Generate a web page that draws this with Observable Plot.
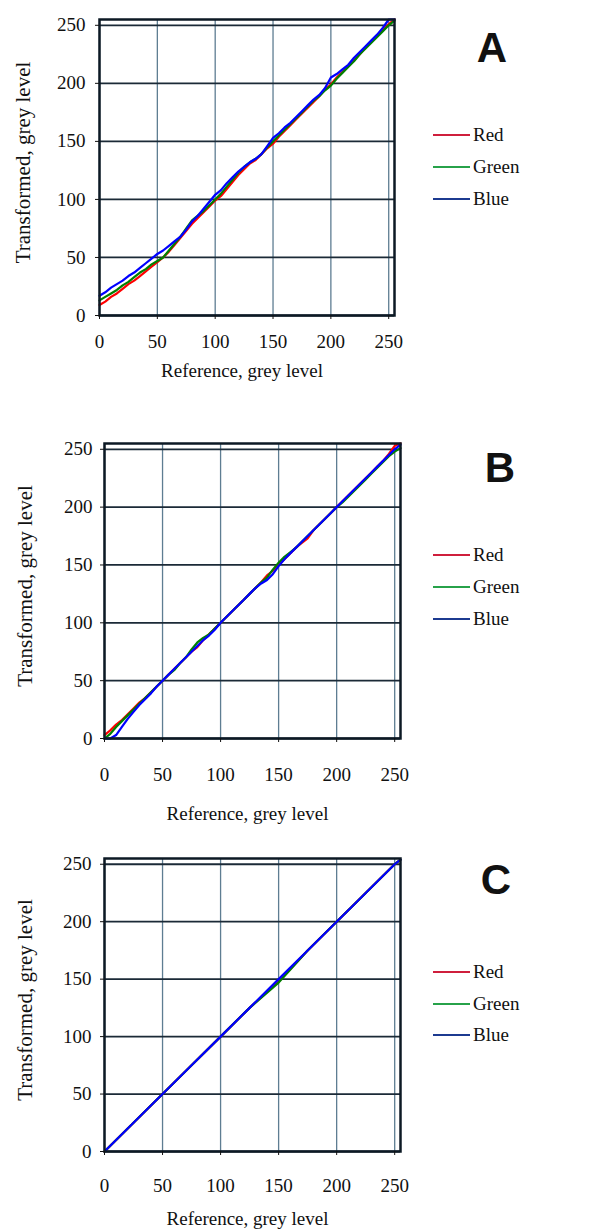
<!DOCTYPE html>
<html>
<head>
<meta charset="utf-8">
<script src="https://cdn.jsdelivr.net/npm/d3@7"></script>
<script src="https://cdn.jsdelivr.net/npm/@observablehq/plot@0.6"></script>
<style>
  html, body { margin: 0; padding: 0; background: #fff; }
  #root { position: relative; width: 589px; height: 1232px; overflow: hidden; background: #fff; }
  .panel { position: absolute; left: 0; }
  .panel svg, .panel svg text { font-family: "Liberation Serif", "Times New Roman", serif !important; }
  .panel svg g[aria-label$="tick label"] { font-size: 19px !important; }
  .letter { position: absolute; font-family: "Liberation Sans", Arial, sans-serif; font-weight: bold; font-size: 42px; line-height: 1; color: #111; transform: translate(-50%, -50%); }
  .leg { position: absolute; font-family: "Liberation Serif", "Times New Roman", serif; font-size: 19px; color: #111; display: flex; align-items: center; transform: translateY(-50%); }
  .leg span.sw { display: inline-block; width: 37px; height: 2.5px; margin-right: 3px; }
</style>
</head>
<body>
<div id="root"></div>
<script>
// ---------- data ----------
const channels = ["Red", "Green", "Blue"];
const channelColors = ["#cf1f3c", "#27a24a", "#1c3a90"];
const ticks = [0, 50, 100, 150, 200, 250];
const xTitle = "Reference, grey level";
const yTitle = "Transformed, grey level";

// reference grey levels (step 5) for panels A and B
const refAB = [0,5,10,15,20,25,30,35,40,45,50,55,60,65,70,75,80,85,90,95,100,105,110,115,120,125,130,135,140,145,150,155,160,165,170,175,180,185,190,195,200,205,210,215,220,225,230,235,240,245,250,255];

// Panel A
const aRed   = [9,12,16,19,23,27,30,34,38,42,46,50,55,61,67,73,79,84,89,94,99,103,109,115,121,126,131,134,139,144,148,154,159,164,169,174,179,184,189,195,199,205,210,215,220,225,231,236,241,246,251,255];
const aGreen = [13,16,19,22,26,29,33,37,40,44,47,50,56,62,68,75,82,86,90,95,100,105,111,117,123,128,132,135,139,145,150,155,160,165,170,175,180,185,189,194,198,204,209,214,219,225,230,235,240,245,250,254];
const aBlue  = [17,20,24,27,30,34,37,41,45,49,53,56,60,64,68,74,81,86,92,98,104,108,114,119,124,128,132,135,139,146,153,157,162,166,171,176,181,186,190,196,205,208,212,216,222,227,232,237,242,248,255,255];

// Panel B
const bRed   = [3,7,12,16,21,26,31,35,40,45,50,55,60,65,70,75,79,85,90,95,100,105,110,115,120,125,130,135,141,145,150,155,160,165,169,173,180,185,190,195,200,205,210,215,220,225,230,235,240,246,253,255];
const bGreen = [0,4,10,15,20,25,30,35,40,45,50,55,59,65,70,77,83,87,90,95,100,105,110,115,120,125,130,135,139,146,152,157,161,165,170,175,180,185,190,195,200,204,209,214,219,224,229,234,239,244,248,251];
const bBlue  = [0,0,3,10,17,23,29,34,39,45,50,55,60,65,70,75,80,85,89,94,100,105,110,115,120,125,130,134,137,142,149,155,160,165,170,175,180,185,190,195,200,205,210,215,220,225,230,235,240,245,250,254];

// Panel C (step 25)
const refC   = [0,25,50,75,100,125,150,175,200,225,250,255];
const cRed   = [0,25,50,75,100,125,148,175,200,225,250,254];
const cGreen = [0,25,50,75,100,125,147,175,200,225,250,254];
const cBlue  = [0,25,50,75,100,125,150,175,200,225,250,254];

// ---------- build ----------
const serif = "'Liberation Serif', 'Times New Roman', serif";

function rows(ref, series) {
  const out = [];
  series.forEach((vals, k) => {
    vals.forEach((v, i) => out.push({ref: ref[i], val: v, ch: channels[k]}));
  });
  return out;
}

function panel(cfg) {
  const data = rows(cfg.ref, cfg.series);
  return Plot.plot({
    width: 589,
    height: cfg.height,
    marginTop: 19,
    marginBottom: cfg.marginBottom,
    marginLeft: cfg.marginLeft,
    marginRight: cfg.marginRight,
    style: {fontFamily: serif, fontSize: "19px", color: "#111", background: "transparent", overflow: "visible"},
    x: {domain: [0, 255]},
    y: {domain: [0, 255]},
    color: {domain: channels, range: channelColors},
    marks: [
      Plot.gridX(ticks, {stroke: "#5e7d92", strokeOpacity: 1, strokeWidth: 1.3}),
      Plot.gridY(ticks, {stroke: "#1b2a37", strokeOpacity: 1, strokeWidth: 1.8}),
      Plot.line(data, {x: "ref", y: "val", stroke: "ch", z: "ch", strokeWidth: 2.2}),
      Plot.frame({stroke: "#0c1924", strokeWidth: 2.5}),
      Plot.axisX(ticks, {tickSize: 4, tickPadding: cfg.xPad, label: null, stroke: "#111", fill: "#111", fontSize: 19, fontFamily: serif}),
      Plot.axisY(ticks, {tickSize: 4, tickPadding: cfg.yPad, label: null, stroke: "#111", fill: "#111", fontSize: 19, fontFamily: serif}),
      Plot.text([xTitle], {frameAnchor: "bottom", lineAnchor: "middle", textAnchor: "middle", dy: cfg.xTitleDy, dx: -5, fontSize: 19, fontFamily: serif, fill: "#111"}),
      Plot.text([yTitle], {frameAnchor: "left", lineAnchor: "middle", textAnchor: "middle", dx: cfg.yTitleDx, dy: -5, rotate: -90, fontSize: 21, fontFamily: serif, fill: "#111"})
    ]
  });
}

const root = document.getElementById("root");
const panels = [
  {top: 0, ref: refAB, series: [aRed, aGreen, aBlue], height: 395, marginBottom: 80, marginLeft: 99, marginRight: 195, xPad: 15, yPad: 10, xTitleDy: 55, yTitleDx: -76,
   letter: "A", lx: 492, ly: 48, legY: [135, 167, 199]},
  {top: 424, ref: refAB, series: [bRed, bGreen, bBlue], height: 394, marginBottom: 80, marginLeft: 104, marginRight: 189, xPad: 25, yPad: 8, xTitleDy: 75, yTitleDx: -79,
   letter: "B", lx: 500, ly: 468, legY: [555, 587, 619]},
  {top: 839, ref: refC, series: [cRed, cGreen, cBlue], height: 392, marginBottom: 80, marginLeft: 104, marginRight: 189, xPad: 23, yPad: 9, xTitleDy: 67, yTitleDx: -79,
   letter: "C", lx: 496, ly: 880, legY: [972, 1004, 1035]}
];

panels.forEach(p => {
  const svg = panel(p);
  const wrap = document.createElement("div");
  wrap.className = "panel";
  wrap.style.top = p.top + "px";
  wrap.appendChild(svg);
  root.appendChild(wrap);

  const L = document.createElement("div");
  L.className = "letter";
  L.style.left = p.lx + "px";
  L.style.top = p.ly + "px";
  L.textContent = p.letter;
  root.appendChild(L);

  channels.forEach((c, i) => {
    const row = document.createElement("div");
    row.className = "leg";
    row.style.left = "433px";
    row.style.top = p.legY[i] + "px";
    const sw = document.createElement("span");
    sw.className = "sw";
    sw.style.background = channelColors[i];
    const t = document.createElement("span");
    t.textContent = c;
    row.appendChild(sw);
    row.appendChild(t);
    root.appendChild(row);
  });
});
</script>
</body>
</html>
